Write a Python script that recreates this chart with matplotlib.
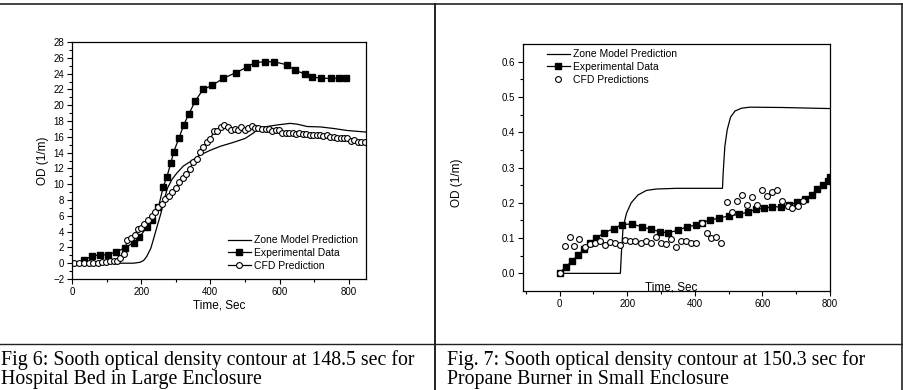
import matplotlib
matplotlib.use('Agg')
import matplotlib.pyplot as plt
from matplotlib.lines import Line2D

plt.rcParams['font.family'] = ['Liberation Sans', 'DejaVu Sans']

# ---- Fig 6: hospital bed, large enclosure ----
exp6_t = [36, 59, 82, 105, 126, 152, 178, 195, 216, 231, 250, 264, 274, 286, 294, 309,
          323, 338, 356, 379, 405, 437, 473, 505, 529, 559, 585, 622, 644, 675, 694,
          720, 749, 772, 793]
exp6_od = [0.42, 0.93, 1.06, 1.06, 1.44, 1.9, 2.62, 3.3, 4.53, 5.41, 7.1, 9.7, 10.9, 12.7,
           14.1, 15.8, 17.5, 18.9, 20.5, 22.0, 22.5, 23.4, 24.1, 24.8, 25.4, 25.5, 25.5,
           25.1, 24.45, 23.9, 23.6, 23.4, 23.4, 23.4, 23.4]

cfd6_t = [6, 20, 35, 48, 62, 75, 88, 98, 110, 120, 129, 139, 149, 160, 171, 181, 190,
          200, 209, 219, 230, 240, 249, 260, 270, 280, 290, 300, 310, 320, 330, 340,
          350, 361, 371, 380, 390, 400, 410, 420, 430, 440, 450, 461, 470, 480, 490,
          500, 510, 520, 529, 539, 549, 560, 569, 579, 590, 599, 608, 618, 627, 638,
          647, 656, 667, 677, 687, 697, 708, 717, 727, 737, 747, 757, 767, 777, 786,
          796, 806, 816, 826, 836, 846]
cfd6_od = [0.0, 0.0, 0.0, 0.0, 0.0, 0.0, 0.1, 0.15, 0.3, 0.25, 0.25, 0.7, 1.15, 2.9, 3.2,
           3.55, 4.3, 4.5, 5.0, 5.5, 6.0, 6.5, 7.1, 7.5, 8.1, 8.5, 9.0, 9.5, 10.3, 10.8,
           11.3, 11.9, 12.8, 13.2, 14.1, 14.7, 15.4, 15.7, 16.7, 16.7, 17.3, 17.5, 17.3,
           16.8, 17.0, 16.9, 17.3, 16.8, 17.1, 17.4, 17.1, 17.1, 17.0, 17.0, 16.95, 16.75,
           16.85, 16.9, 16.5, 16.5, 16.5, 16.45, 16.4, 16.5, 16.4, 16.3, 16.2, 16.2, 16.2,
           16.2, 16.1, 16.2, 16.0, 16.0, 15.9, 15.8, 15.9, 15.9, 15.5, 15.6, 15.4, 15.3,
           15.35]

zone6_t = [0, 100, 178, 197, 207, 216, 228, 237, 247, 257, 266, 276, 289, 303, 322, 347,
           371, 400, 429, 467, 501, 525, 544, 564, 593, 631, 651, 680, 718, 757, 795, 850]
zone6_od = [0.0, 0.0, 0.0, 0.12, 0.34, 0.85, 1.9, 3.26, 4.8, 6.3, 8.0, 9.5, 10.6, 11.4,
            12.3, 13.0, 13.7, 14.3, 14.8, 15.3, 15.8, 16.5, 17.2, 17.3, 17.5, 17.7, 17.6,
            17.3, 17.25, 17.05, 16.8, 16.6]

# ---- Fig 7: propane burner, small enclosure ----
exp7_t = [0, 18, 37, 55, 73, 90, 109, 132, 161, 184, 213, 244, 270, 297, 322, 349, 377,
          405, 422, 446, 473, 502, 531, 558, 580, 604, 629, 654, 679, 702, 727, 746, 761,
          780, 793, 800]
exp7_od = [0.0, 0.019, 0.034, 0.053, 0.068, 0.085, 0.100, 0.115, 0.127, 0.138, 0.140,
           0.132, 0.125, 0.118, 0.115, 0.122, 0.132, 0.137, 0.144, 0.151, 0.157, 0.163,
           0.167, 0.174, 0.181, 0.185, 0.188, 0.189, 0.193, 0.202, 0.210, 0.223, 0.238,
           0.250, 0.261, 0.274]

cfd7_t = [0, 15, 30, 44, 59, 74, 89, 105, 120, 134, 149, 164, 179, 195, 209, 224, 240,
          255, 270, 284, 299, 314, 330, 345, 360, 375, 389, 405, 420, 435, 449, 464, 479,
          494, 509, 525, 539, 554, 569, 584, 600, 614, 629, 644, 659, 675, 689, 704, 719]
cfd7_od = [0.0, 0.078, 0.102, 0.078, 0.098, 0.076, 0.083, 0.085, 0.093, 0.079, 0.088,
           0.085, 0.080, 0.095, 0.093, 0.091, 0.085, 0.091, 0.085, 0.104, 0.085, 0.084,
           0.098, 0.076, 0.091, 0.091, 0.087, 0.087, 0.144, 0.114, 0.100, 0.104, 0.085,
           0.203, 0.174, 0.204, 0.223, 0.194, 0.216, 0.194, 0.237, 0.218, 0.231, 0.237,
           0.206, 0.192, 0.185, 0.192, 0.204]

zone7_t = [0, 100, 180, 183, 188, 198, 212, 232, 257, 286, 346, 420, 482, 484, 489, 496,
           506, 519, 538, 563, 662, 800]
zone7_od = [0.0, 0.0, 0.0, 0.057, 0.13, 0.17, 0.2, 0.222, 0.235, 0.239, 0.241, 0.241,
            0.241, 0.284, 0.36, 0.407, 0.443, 0.46, 0.468, 0.471, 0.470, 0.467]

caption6 = "Fig 6: Sooth optical density contour at 148.5 sec for\nHospital Bed in Large Enclosure"
caption7 = "Fig. 7: Sooth optical density contour at 150.3 sec for\nPropane Burner in Small Enclosure"

W, H = 904, 390
fig = plt.figure(figsize=(W / 100, H / 100), dpi=100)


def fx(px):
    return px / W


def fy(py):
    return 1 - py / H


# table lines
lc = '#222222'
fig.add_artist(Line2D([0, fx(902)], [fy(4), fy(4)], color=lc, lw=1.2))
fig.add_artist(Line2D([0, fx(902)], [fy(344), fy(344)], color=lc, lw=1.0))
fig.add_artist(Line2D([fx(435), fx(435)], [fy(4), 0], color=lc, lw=1.4))
fig.add_artist(Line2D([fx(902), fx(902)], [fy(4), 0], color=lc, lw=1.2))

fig.text(fx(1), fy(350), caption6, family=['Liberation Serif'], fontsize=14.3,
         va='top', ha='left', linespacing=0.98)
fig.text(fx(447), fy(350), caption7, family=['Liberation Serif'], fontsize=14.3,
         va='top', ha='left', linespacing=0.98)


def style(ax):
    ax.tick_params(which='both', direction='out', top=False, right=False, labelsize=7,
                   width=0.8, pad=2)
    ax.tick_params(which='major', length=3.5)
    ax.tick_params(which='minor', length=2)
    for s in ax.spines.values():
        s.set_linewidth(0.9)


# left panel
ax1 = fig.add_axes([fx(72), fy(279), fx(294), 237 / H])
ax1.plot(zone6_t, zone6_od, color='black', lw=0.9, label='Zone Model Prediction')
ax1.plot(exp6_t, exp6_od, color='black', lw=0.9, marker='s', ms=4.3, label='Experimental Data')
ax1.plot(cfd6_t, cfd6_od, color='black', lw=0.9, marker='o', ms=4.2, mfc='white', mew=0.8,
         label='CFD Prediction')
ax1.set_xlim(0, 850)
ax1.set_ylim(-2, 28)
ax1.set_xticks([0, 200, 400, 600, 800])
ax1.set_xticks(range(100, 900, 200), minor=True)
ax1.set_yticks(range(-2, 29, 2))
ax1.set_yticks(range(-1, 28, 2), minor=True)
style(ax1)
ax1.set_xlabel('Time, Sec', fontsize=8.5, labelpad=2)
ax1.set_ylabel('OD (1/m)', fontsize=8.5, labelpad=3)
ax1.legend(loc='center left', bbox_to_anchor=(0.53, 0.11), frameon=False, fontsize=7.5,
           handlelength=2.2, handletextpad=0.3, borderpad=0, borderaxespad=0,
           labelspacing=0.25)

# right panel
ax2 = fig.add_axes([fx(523), fy(291), fx(307), 247 / H])
ax2.plot(zone7_t, zone7_od, color='black', lw=0.9, label='Zone Model Prediction')
ax2.plot(exp7_t, exp7_od, color='black', lw=0.9, marker='s', ms=4.3, label='Experimental Data')
ax2.plot(cfd7_t, cfd7_od, ls='none', marker='o', ms=4.2, mfc='white', mec='black', mew=0.8,
         label='CFD Predictions')
ax2.set_xlim(-108, 800)
ax2.set_ylim(-0.05, 0.65)
ax2.set_xticks([0, 200, 400, 600, 800])
ax2.set_xticks(range(-100, 800, 200), minor=True)
ax2.set_yticks([0.0, 0.1, 0.2, 0.3, 0.4, 0.5, 0.6])
ax2.set_yticks([0.05, 0.15, 0.25, 0.35, 0.45, 0.55], minor=True)
ax2.set_yticklabels(['0.0', '0.1', '0.2', '0.3', '0.4', '0.5', '0.6'])
style(ax2)
ax2.set_xlabel('Time, Sec', fontsize=8.5)
ax2.xaxis.set_label_coords(0.484, 0.04)
ax2.set_ylabel('OD (1/m)', fontsize=8.5)
ax2.yaxis.set_label_coords((463 - 523) / 307, 0.44)
ax2.legend(loc='center left', bbox_to_anchor=(0.078, 0.907), frameon=False, fontsize=7.5,
           handlelength=2.2, handletextpad=0.3, borderpad=0, borderaxespad=0,
           labelspacing=0.25)

fig.savefig('out.png', dpi=100)
